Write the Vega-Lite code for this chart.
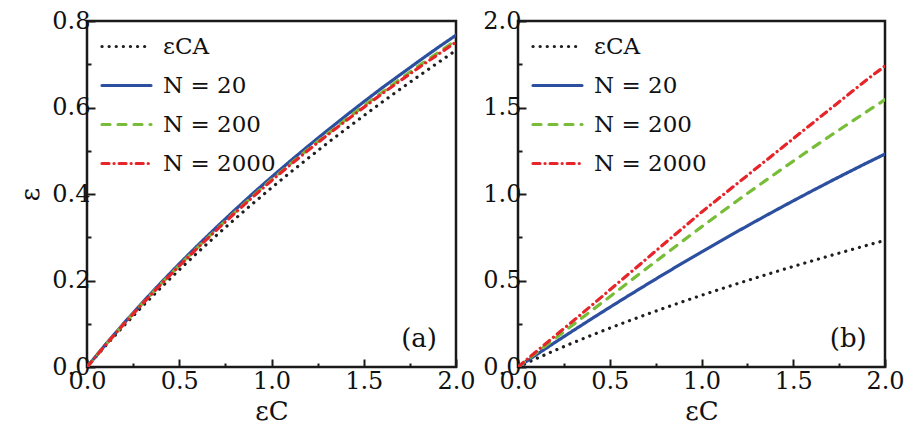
{
"$schema": "https://vega.github.io/schema/vega-lite/v6.json",
"padding": {"left": 16, "top": 7, "right": 4, "bottom": 0},
"config": {
  "font": "DejaVu Serif",
  "view": {"stroke": "#1a1a1a", "strokeWidth": 2.5},
  "axis": {"domain": false, "grid": false, "labelFont": "DejaVu Serif", "labelFontSize": 24, "labelColor": "#111", "tickColor": "#1a1a1a", "tickWidth": 2, "labelOverlap": false, "labelFlush": false, "titleFont": "DejaVu Serif", "titleFontSize": 26, "titleFontWeight": "normal", "titleColor": "#111"},
  "legend": {"orient": "none", "legendX": 12, "legendY": -2, "padding": 1, "title": null, "labelFont": "DejaVu Serif", "labelFontSize": 23, "labelColor": "#111", "symbolType": "stroke", "symbolSize": 2401, "symbolStrokeWidth": 3.2, "rowPadding": -17.5, "labelOffset": 10},
  "text": {"font": "DejaVu Serif"},
  "concat": {"spacing": 4}
},
"datasets": {"d": [
{"p":"a","s":"εCA","x":0,"y":0},{"p":"a","s":"εCA","x":0.1,"y":0.0488},{"p":"a","s":"εCA","x":0.2,"y":0.0954},{"p":"a","s":"εCA","x":0.3,"y":0.1402},{"p":"a","s":"εCA","x":0.4,"y":0.1832},{"p":"a","s":"εCA","x":0.5,"y":0.2247},{"p":"a","s":"εCA","x":0.6,"y":0.2649},{"p":"a","s":"εCA","x":0.7,"y":0.3038},{"p":"a","s":"εCA","x":0.8,"y":0.3416},{"p":"a","s":"εCA","x":0.9,"y":0.3784},{"p":"a","s":"εCA","x":1.0,"y":0.4142},{"p":"a","s":"εCA","x":1.1,"y":0.4491},{"p":"a","s":"εCA","x":1.2,"y":0.4832},{"p":"a","s":"εCA","x":1.3,"y":0.5166},{"p":"a","s":"εCA","x":1.4,"y":0.5492},{"p":"a","s":"εCA","x":1.5,"y":0.5811},{"p":"a","s":"εCA","x":1.6,"y":0.6125},{"p":"a","s":"εCA","x":1.7,"y":0.6432},{"p":"a","s":"εCA","x":1.8,"y":0.6733},{"p":"a","s":"εCA","x":1.9,"y":0.7029},{"p":"a","s":"εCA","x":2.0,"y":0.7321},
{"p":"a","s":"N = 20","x":0,"y":0},{"p":"a","s":"N = 20","x":0.1,"y":0.052},{"p":"a","s":"N = 20","x":0.2,"y":0.1013},{"p":"a","s":"N = 20","x":0.3,"y":0.1489},{"p":"a","s":"N = 20","x":0.4,"y":0.1945},{"p":"a","s":"N = 20","x":0.5,"y":0.2386},{"p":"a","s":"N = 20","x":0.6,"y":0.2812},{"p":"a","s":"N = 20","x":0.7,"y":0.3224},{"p":"a","s":"N = 20","x":0.8,"y":0.3625},{"p":"a","s":"N = 20","x":0.9,"y":0.4015},{"p":"a","s":"N = 20","x":1.0,"y":0.439},{"p":"a","s":"N = 20","x":1.1,"y":0.4756},{"p":"a","s":"N = 20","x":1.2,"y":0.5112},{"p":"a","s":"N = 20","x":1.3,"y":0.546},{"p":"a","s":"N = 20","x":1.4,"y":0.58},{"p":"a","s":"N = 20","x":1.5,"y":0.6131},{"p":"a","s":"N = 20","x":1.6,"y":0.6456},{"p":"a","s":"N = 20","x":1.7,"y":0.6766},{"p":"a","s":"N = 20","x":1.8,"y":0.7076},{"p":"a","s":"N = 20","x":1.9,"y":0.738},{"p":"a","s":"N = 20","x":2.0,"y":0.7672},
{"p":"a","s":"N = 200","x":0,"y":0},{"p":"a","s":"N = 200","x":0.1,"y":0.051},{"p":"a","s":"N = 200","x":0.2,"y":0.0998},{"p":"a","s":"N = 200","x":0.3,"y":0.1466},{"p":"a","s":"N = 200","x":0.4,"y":0.1915},{"p":"a","s":"N = 200","x":0.5,"y":0.2349},{"p":"a","s":"N = 200","x":0.6,"y":0.2768},{"p":"a","s":"N = 200","x":0.7,"y":0.3175},{"p":"a","s":"N = 200","x":0.8,"y":0.357},{"p":"a","s":"N = 200","x":0.9,"y":0.3954},{"p":"a","s":"N = 200","x":1.0,"y":0.4328},{"p":"a","s":"N = 200","x":1.1,"y":0.4689},{"p":"a","s":"N = 200","x":1.2,"y":0.504},{"p":"a","s":"N = 200","x":1.3,"y":0.5378},{"p":"a","s":"N = 200","x":1.4,"y":0.5712},{"p":"a","s":"N = 200","x":1.5,"y":0.6038},{"p":"a","s":"N = 200","x":1.6,"y":0.6352},{"p":"a","s":"N = 200","x":1.7,"y":0.6664},{"p":"a","s":"N = 200","x":1.8,"y":0.6969},{"p":"a","s":"N = 200","x":1.9,"y":0.7261},{"p":"a","s":"N = 200","x":2.0,"y":0.7555},
{"p":"a","s":"N = 2000","x":0,"y":0},{"p":"a","s":"N = 2000","x":0.1,"y":0.0508},{"p":"a","s":"N = 2000","x":0.2,"y":0.0993},{"p":"a","s":"N = 2000","x":0.3,"y":0.1459},{"p":"a","s":"N = 2000","x":0.4,"y":0.1906},{"p":"a","s":"N = 2000","x":0.5,"y":0.2338},{"p":"a","s":"N = 2000","x":0.6,"y":0.2756},{"p":"a","s":"N = 2000","x":0.7,"y":0.316},{"p":"a","s":"N = 2000","x":0.8,"y":0.3553},{"p":"a","s":"N = 2000","x":0.9,"y":0.3935},{"p":"a","s":"N = 2000","x":1.0,"y":0.4308},{"p":"a","s":"N = 2000","x":1.1,"y":0.4666},{"p":"a","s":"N = 2000","x":1.2,"y":0.5016},{"p":"a","s":"N = 2000","x":1.3,"y":0.5352},{"p":"a","s":"N = 2000","x":1.4,"y":0.5684},{"p":"a","s":"N = 2000","x":1.5,"y":0.6003},{"p":"a","s":"N = 2000","x":1.6,"y":0.6321},{"p":"a","s":"N = 2000","x":1.7,"y":0.6625},{"p":"a","s":"N = 2000","x":1.8,"y":0.6928},{"p":"a","s":"N = 2000","x":1.9,"y":0.7219},{"p":"a","s":"N = 2000","x":2.0,"y":0.7511},
{"p":"b","s":"εCA","x":0,"y":0},{"p":"b","s":"εCA","x":0.1,"y":0.0488},{"p":"b","s":"εCA","x":0.2,"y":0.0954},{"p":"b","s":"εCA","x":0.3,"y":0.1402},{"p":"b","s":"εCA","x":0.4,"y":0.1832},{"p":"b","s":"εCA","x":0.5,"y":0.2247},{"p":"b","s":"εCA","x":0.6,"y":0.2649},{"p":"b","s":"εCA","x":0.7,"y":0.3038},{"p":"b","s":"εCA","x":0.8,"y":0.3416},{"p":"b","s":"εCA","x":0.9,"y":0.3784},{"p":"b","s":"εCA","x":1.0,"y":0.4142},{"p":"b","s":"εCA","x":1.1,"y":0.4491},{"p":"b","s":"εCA","x":1.2,"y":0.4832},{"p":"b","s":"εCA","x":1.3,"y":0.5166},{"p":"b","s":"εCA","x":1.4,"y":0.5492},{"p":"b","s":"εCA","x":1.5,"y":0.5811},{"p":"b","s":"εCA","x":1.6,"y":0.6125},{"p":"b","s":"εCA","x":1.7,"y":0.6432},{"p":"b","s":"εCA","x":1.8,"y":0.6733},{"p":"b","s":"εCA","x":1.9,"y":0.7029},{"p":"b","s":"εCA","x":2.0,"y":0.7321},
{"p":"b","s":"N = 20","x":0,"y":0},{"p":"b","s":"N = 20","x":0.1,"y":0.071},{"p":"b","s":"N = 20","x":0.2,"y":0.1409},{"p":"b","s":"N = 20","x":0.3,"y":0.2099},{"p":"b","s":"N = 20","x":0.4,"y":0.2779},{"p":"b","s":"N = 20","x":0.5,"y":0.3449},{"p":"b","s":"N = 20","x":0.6,"y":0.4109},{"p":"b","s":"N = 20","x":0.7,"y":0.4759},{"p":"b","s":"N = 20","x":0.8,"y":0.5399},{"p":"b","s":"N = 20","x":0.9,"y":0.603},{"p":"b","s":"N = 20","x":1.0,"y":0.665},{"p":"b","s":"N = 20","x":1.1,"y":0.7261},{"p":"b","s":"N = 20","x":1.2,"y":0.7861},{"p":"b","s":"N = 20","x":1.3,"y":0.8452},{"p":"b","s":"N = 20","x":1.4,"y":0.9033},{"p":"b","s":"N = 20","x":1.5,"y":0.9604},{"p":"b","s":"N = 20","x":1.6,"y":1.0165},{"p":"b","s":"N = 20","x":1.7,"y":1.0716},{"p":"b","s":"N = 20","x":1.8,"y":1.1257},{"p":"b","s":"N = 20","x":1.9,"y":1.1789},{"p":"b","s":"N = 20","x":2.0,"y":1.231},
{"p":"b","s":"N = 200","x":0,"y":0},{"p":"b","s":"N = 200","x":0.1,"y":0.082},{"p":"b","s":"N = 200","x":0.2,"y":0.163},{"p":"b","s":"N = 200","x":0.3,"y":0.244},{"p":"b","s":"N = 200","x":0.4,"y":0.325},{"p":"b","s":"N = 200","x":0.5,"y":0.406},{"p":"b","s":"N = 200","x":0.6,"y":0.488},{"p":"b","s":"N = 200","x":0.7,"y":0.569},{"p":"b","s":"N = 200","x":0.8,"y":0.65},{"p":"b","s":"N = 200","x":0.9,"y":0.73},{"p":"b","s":"N = 200","x":1.0,"y":0.81},{"p":"b","s":"N = 200","x":1.1,"y":0.888},{"p":"b","s":"N = 200","x":1.2,"y":0.965},{"p":"b","s":"N = 200","x":1.3,"y":1.041},{"p":"b","s":"N = 200","x":1.4,"y":1.116},{"p":"b","s":"N = 200","x":1.5,"y":1.19},{"p":"b","s":"N = 200","x":1.6,"y":1.263},{"p":"b","s":"N = 200","x":1.7,"y":1.335},{"p":"b","s":"N = 200","x":1.8,"y":1.406},{"p":"b","s":"N = 200","x":1.9,"y":1.476},{"p":"b","s":"N = 200","x":2.0,"y":1.545},
{"p":"b","s":"N = 2000","x":0,"y":0},{"p":"b","s":"N = 2000","x":0.1,"y":0.09},{"p":"b","s":"N = 2000","x":0.2,"y":0.178},{"p":"b","s":"N = 2000","x":0.3,"y":0.266},{"p":"b","s":"N = 2000","x":0.4,"y":0.355},{"p":"b","s":"N = 2000","x":0.5,"y":0.445},{"p":"b","s":"N = 2000","x":0.6,"y":0.535},{"p":"b","s":"N = 2000","x":0.7,"y":0.625},{"p":"b","s":"N = 2000","x":0.8,"y":0.715},{"p":"b","s":"N = 2000","x":0.9,"y":0.805},{"p":"b","s":"N = 2000","x":1.0,"y":0.895},{"p":"b","s":"N = 2000","x":1.1,"y":0.98},{"p":"b","s":"N = 2000","x":1.2,"y":1.065},{"p":"b","s":"N = 2000","x":1.3,"y":1.15},{"p":"b","s":"N = 2000","x":1.4,"y":1.235},{"p":"b","s":"N = 2000","x":1.5,"y":1.32},{"p":"b","s":"N = 2000","x":1.6,"y":1.405},{"p":"b","s":"N = 2000","x":1.7,"y":1.49},{"p":"b","s":"N = 2000","x":1.8,"y":1.575},{"p":"b","s":"N = 2000","x":1.9,"y":1.66},{"p":"b","s":"N = 2000","x":2.0,"y":1.74}
]},
"resolve": {"scale": {"color": "independent", "strokeDash": "independent"}, "legend": {"color": "independent", "strokeDash": "independent"}},
"hconcat": [
{
  "width": 369, "height": 346,
  "layer": [
    {
      "data": {"name": "d"},
      "transform": [{"filter": "datum.p == 'a'"}],
      "mark": {"type": "line", "strokeWidth": 3.2, "strokeCap": "round", "clip": true},
      "encoding": {
        "x": {"field": "x", "type": "quantitative", "scale": {"domain": [0, 2], "nice": false},
              "axis": {"values": [0, 0.25, 0.5, 0.75, 1, 1.25, 1.5, 1.75, 2], "labelExpr": "datum.value % 0.5 == 0 ? format(datum.value, '.1f') : ''",
                       "tickSize": {"condition": {"test": "datum.value % 0.5 == 0", "value": -8}, "value": -4}, "labelPadding": 10, "title": "εC", "titlePadding": 1}},
        "y": {"field": "y", "type": "quantitative", "scale": {"domain": [0, 0.8], "nice": false},
              "axis": {"values": [0, 0.1, 0.2, 0.3, 0.4, 0.5, 0.6, 0.7, 0.8], "labelExpr": "round(datum.value * 10) % 2 == 0 ? format(datum.value, '.1f') : ''",
                       "tickSize": {"condition": {"test": "round(datum.value * 10) % 2 == 0", "value": -8}, "value": -4}, "labelPadding": 5, "title": "ε", "titlePadding": 8}},
        "color": {"field": "s", "type": "nominal", "scale": {"domain": ["εCA", "N = 20", "N = 200", "N = 2000"], "range": ["#1e1e1e", "#2c4fa0", "#78bd38", "#e6252b"]}, "legend": {"encode": {"symbols": {"update": {"strokeCap": {"value": "round"}}}}}},
        "strokeDash": {"field": "s", "type": "nominal", "scale": {"domain": ["εCA", "N = 20", "N = 200", "N = 2000"], "range": [[0.1, 7], [1, 0], [8, 8], [7, 5, 0.1, 5]]}, "legend": {"encode": {"symbols": {"update": {"strokeCap": {"value": "round"}}}}}}
      }
    },
    {
      "data": {"values": [{"t": "(a)"}]},
      "mark": {"type": "text", "fontSize": 26, "color": "#111"},
      "encoding": {"x": {"datum": 1.8, "type": "quantitative"}, "y": {"datum": 0.065, "type": "quantitative"}, "text": {"field": "t"}}
    }
  ]
},
{
  "width": 367, "height": 346,
  "layer": [
    {
      "data": {"name": "d"},
      "transform": [{"filter": "datum.p == 'b'"}],
      "mark": {"type": "line", "strokeWidth": 3.2, "strokeCap": "round", "clip": true},
      "encoding": {
        "x": {"field": "x", "type": "quantitative", "scale": {"domain": [0, 2], "nice": false},
              "axis": {"values": [0, 0.25, 0.5, 0.75, 1, 1.25, 1.5, 1.75, 2], "labelExpr": "datum.value % 0.5 == 0 ? format(datum.value, '.1f') : ''",
                       "tickSize": {"condition": {"test": "datum.value % 0.5 == 0", "value": -8}, "value": -4}, "labelPadding": 10, "title": "εC", "titlePadding": 1}},
        "y": {"field": "y", "type": "quantitative", "scale": {"domain": [0, 2], "nice": false},
              "axis": {"values": [0, 0.25, 0.5, 0.75, 1, 1.25, 1.5, 1.75, 2], "labelExpr": "datum.value % 0.5 == 0 ? format(datum.value, '.1f') : ''",
                       "tickSize": {"condition": {"test": "datum.value % 0.5 == 0", "value": -8}, "value": -4}, "labelPadding": 5, "title": null}},
        "color": {"field": "s", "type": "nominal", "scale": {"domain": ["εCA", "N = 20", "N = 200", "N = 2000"], "range": ["#1e1e1e", "#2c4fa0", "#78bd38", "#e6252b"]}, "legend": {"encode": {"symbols": {"update": {"strokeCap": {"value": "round"}}}}}},
        "strokeDash": {"field": "s", "type": "nominal", "scale": {"domain": ["εCA", "N = 20", "N = 200", "N = 2000"], "range": [[0.1, 7], [1, 0], [8, 8], [7, 5, 0.1, 5]]}, "legend": {"encode": {"symbols": {"update": {"strokeCap": {"value": "round"}}}}}}
      }
    },
    {
      "data": {"values": [{"t": "(b)"}]},
      "mark": {"type": "text", "fontSize": 26, "color": "#111"},
      "encoding": {"x": {"datum": 1.8, "type": "quantitative"}, "y": {"datum": 0.162, "type": "quantitative"}, "text": {"field": "t"}}
    }
  ]
}
]
}
